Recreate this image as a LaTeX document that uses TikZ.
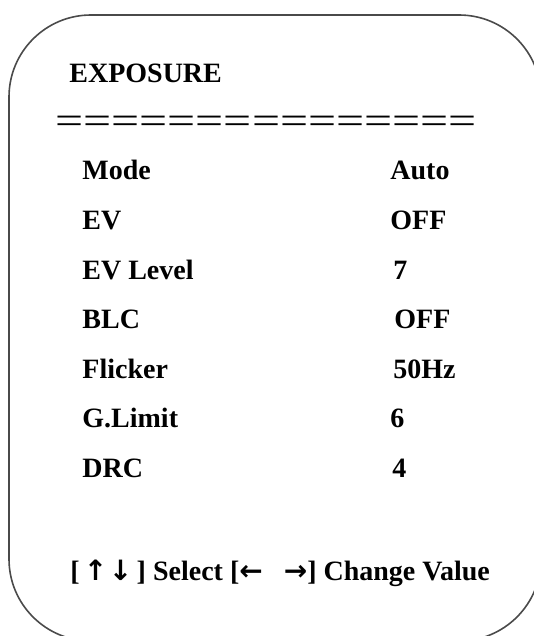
\documentclass[tikz,border=0pt]{standalone}
\usepackage{fontspec}
\setmainfont{Liberation Serif}
\newfontfamily\arrowfont{DejaVu Sans}
\usepackage{xcolor}
\usepackage{tikz}

\definecolor{framegray}{HTML}{4A4A4A}

\newcommand{\vkey}[1]{\makebox[9pt]{\arrowfont #1}}
\newcommand{\hkey}[1]{{\arrowfont #1}}

\tikzset{
  frame/.style={draw=framegray,line width=0.8pt,rounded corners=41pt},
  menutext/.style={anchor=base west,inner sep=0pt,font=\fontsize{14}{16}\bfseries\selectfont}
}

\begin{document}
\begin{tikzpicture}[x=0.5pt,y=-0.5pt]
\useasboundingbox (0,0) rectangle (534,636);
\clip (0,0) rectangle (534,636);
\draw[frame] (9,15) rectangle (541,641);
\begin{scope}[every node/.style={menutext}]
    \node (title) at (69,83) {EXPOSURE};
    \node[font=\fontsize{19}{22}\selectfont,xscale=1.31] (rule) at (55,134) {===============};
    \node (mode) at (82,180) {Mode};
    \node (ev) at (82,229.5) {EV};
    \node (evlevel) at (82,279) {EV Level};
    \node (blc) at (82,328.5) {BLC};
    \node (flicker) at (82,378) {Flicker};
    \node (glimit) at (82,427.5) {G.Limit};
    \node (drc) at (82,477) {DRC};
    % values
    \node (modev) at (390,180) {Auto};
    \node (evv) at (390,229.5) {OFF};
    \node (evlevelv) at (393,279) {7};
    \node (blcv) at (394,328.5) {OFF};
    \node (flickerv) at (393,378) {50Hz};
    \node (glimitv) at (390,427.5) {6};
    \node (drcv) at (392,477) {4};
    \node (help) at (70,580) {[ \vkey{↑} \vkey{↓} ] Select [\hkey{←}\hspace{7pt} \hkey{→}] Change Value};
\end{scope}
\end{tikzpicture}
\end{document}
